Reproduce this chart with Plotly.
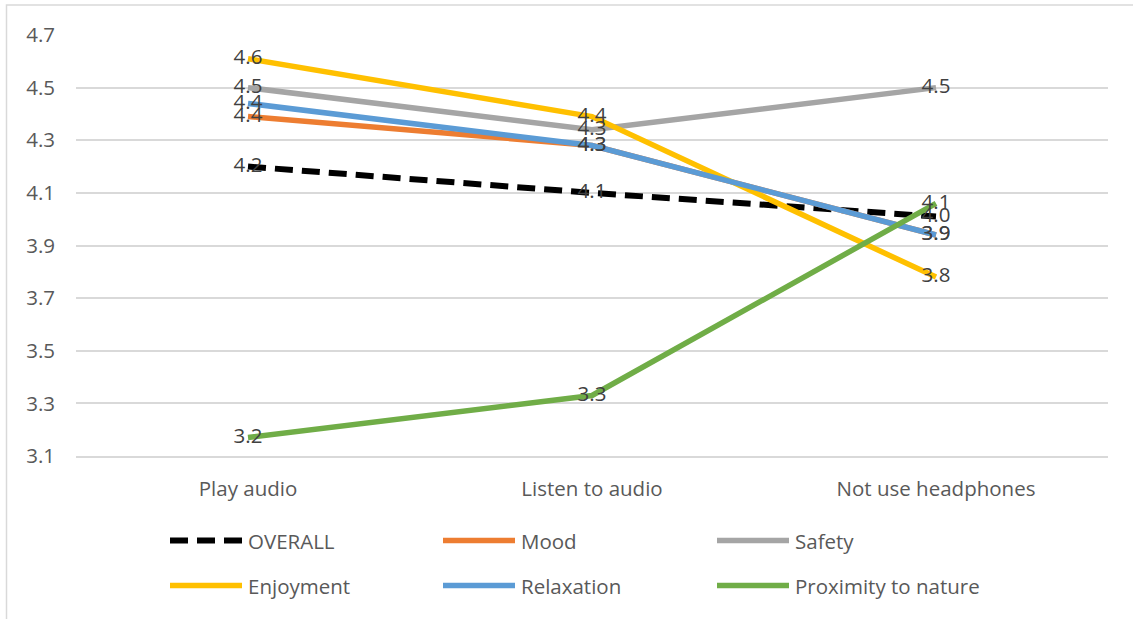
import plotly.graph_objects as go

# Survey means by intended headphone behaviour
categories = ["Play audio", "Listen to audio", "Not use headphones"]

overall = [4.20, 4.10, 4.01]
mood = [4.39, 4.28, 3.94]
safety = [4.50, 4.34, 4.50]
enjoyment = [4.61, 4.39, 3.78]
relaxation = [4.44, 4.28, 3.94]
proximity = [3.17, 3.33, 4.06]

y_ticks = [3.1, 3.3, 3.5, 3.7, 3.9, 4.1, 4.3, 4.5, 4.7]

series = [
    ("OVERALL", overall, "#000000", "18px,9px", 6),
    ("Mood", mood, "#ED7D31", "solid", 5.5),
    ("Safety", safety, "#A5A5A5", "solid", 5.5),
    ("Enjoyment", enjoyment, "#FFC000", "solid", 5.5),
    ("Relaxation", relaxation, "#5B9BD5", "solid", 5.5),
    ("Proximity to nature", proximity, "#70AD47", "solid", 5.5),
]

FONT = "Open Sans, Noto Sans, sans-serif"
W, H = 1133, 619
L, R, T, B = 76, 1108, 35, 456  # plot area edges in pixels


def px(x):
    return (x - L) / (R - L)


def py(y):
    return (B - y) / (B - T)


fig = go.Figure()

# lines first, so every value label sits above every line
for name, vals, color, dash, width in series:
    fig.add_trace(go.Scatter(
        x=categories, y=vals, name=name, mode="lines",
        line=dict(color=color, width=width, dash=dash),
        showlegend=False, hoverinfo="skip",
    ))

for name, vals, color, dash, width in series:
    fig.add_trace(go.Scatter(
        x=categories, y=vals, mode="text",
        texttemplate="%{y:.1f}", textposition="middle center",
        textfont=dict(family=FONT, size=20.5, color="#404040"),
        showlegend=False, hoverinfo="skip",
    ))

# legend: three columns, two rows
shapes = []
annotations = []
col_x = [170, 443, 717]
row_y = [540.5, 585.5]
for i, (name, vals, color, dash, width) in enumerate(series):
    cx = col_x[i % 3]
    cy = row_y[i // 3]
    shapes.append(dict(
        type="line", xref="paper", yref="paper",
        x0=px(cx), x1=px(cx + 72), y0=py(cy), y1=py(cy),
        line=dict(color=color, width=width, dash=dash),
    ))
    annotations.append(dict(
        xref="paper", yref="paper", x=px(cx + 76), y=py(cy),
        xanchor="left", yanchor="middle", text=name, showarrow=False,
        font=dict(family=FONT, size=20.5, color="#595959"),
    ))

# outer chart frame
shapes.append(dict(
    type="rect", xref="paper", yref="paper",
    x0=px(6.5), x1=px(1150), y0=py(5), y1=py(640),
    line=dict(color="#D9D9D9", width=1.5), fillcolor="rgba(0,0,0,0)",
    layer="below",
))

fig.update_layout(
    width=W, height=H,
    margin=dict(l=L, r=W - R, t=T, b=H - B),
    paper_bgcolor="white", plot_bgcolor="white",
    font=dict(family=FONT, size=20.5, color="#595959"),
    shapes=shapes, annotations=annotations,
    showlegend=False,
)

fig.update_xaxes(
    type="category", range=[-0.5, 2.5],
    showgrid=False, zeroline=False,
    showline=True, linecolor="#D9D9D9", linewidth=1.5,
    ticks="", ticklabelstandoff=14,
    tickfont=dict(family=FONT, size=20.5, color="#595959"),
)

fig.update_yaxes(
    range=[3.1, 4.7], tickvals=y_ticks, tickformat=".1f",
    showgrid=True, gridcolor="#D9D9D9", gridwidth=1.5,
    zeroline=False, showline=False, ticks="",
    ticklabelstandoff=20,
    tickfont=dict(family=FONT, size=20.5, color="#595959"),
)

fig.write_html("out.html")
